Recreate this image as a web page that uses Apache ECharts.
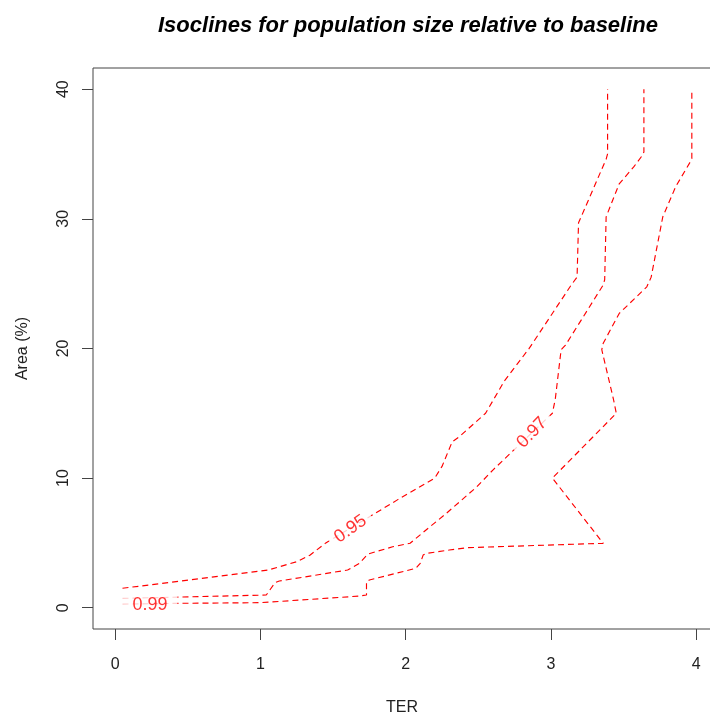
<!DOCTYPE html>
<html>
<head>
<meta charset="utf-8">
<title>Isoclines</title>
<script src="https://cdn.jsdelivr.net/npm/echarts@6/dist/echarts.min.js"></script>
<style>
  html, body { margin: 0; padding: 0; background: #fff; }
  #chart { width: 710px; height: 715px; }
</style>
</head>
<body>
<div id="chart"></div>
<script>
// Isocline paths: [TER, Area (%)] vertices for each contour level
const levels = ['0.95', '0.97', '0.99'];

const iso095 = [
  [0.05, 1.5], [1.05, 2.9], [1.25, 3.55], [1.34, 4.05], [1.45, 5.0],
  [1.77, 7.15], [1.94, 8.3], [2.2, 10.0], [2.25, 10.9], [2.32, 12.8],
  [2.37, 13.2], [2.55, 15.0], [2.68, 17.5], [2.85, 20.0], [3.14, 24.9],
  [3.18, 25.5], [3.19, 29.7], [3.21, 30.2], [3.38, 34.6], [3.39, 35.0],
  [3.39, 40.0]
];

const iso097 = [
  [0.05, 0.72], [1.04, 0.98], [1.1, 1.93], [1.13, 2.06], [1.6, 2.91],
  [1.68, 3.42], [1.74, 4.14], [1.91, 4.7], [2.03, 4.97], [2.14, 6.0],
  [2.28, 7.28], [2.49, 9.33], [2.6, 10.62], [3.01, 15.0], [3.03, 16.1],
  [3.07, 19.9], [3.1, 20.25], [3.36, 24.9], [3.37, 25.3], [3.38, 30.15],
  [3.47, 32.7], [3.57, 34.0], [3.63, 34.9], [3.64, 35.15], [3.64, 40.0]
];

const iso099 = [
  [0.05, 0.28], [0.43, 0.34], [1.0, 0.39], [1.68, 0.9], [1.73, 0.98],
  [1.73, 2.0], [1.75, 2.14], [2.07, 3.04], [2.1, 3.42], [2.12, 4.06],
  [2.14, 4.19], [2.3, 4.45], [2.42, 4.63], [3.36, 4.97], [3.01, 10.0],
  [3.45, 15.0], [3.43, 16.1], [3.35, 19.9], [3.36, 20.4], [3.47, 22.7],
  [3.66, 24.75], [3.69, 25.5], [3.77, 30.15], [3.86, 32.5], [3.96, 34.4],
  [3.97, 34.65], [3.97, 40.0]
];

// Where each level's value is written along its line: [TER, Area, angle]
const labelAt = [
  [1.62, 6.07, 35],
  [2.87, 13.5, 46],
  [0.225, 0.2, 0]
];

const xTicks = [0, 1, 2, 3, 4];
const yTicks = [0, 10, 20, 30, 40];

const FONT = '"Liberation Sans", Arial, sans-serif';
const RED = '#ff0000';
const AXIS_GRAY = '#444';
const TEXT_GRAY = '#222';

const lineSeries = [iso095, iso097, iso099].map((pts, i) => ({
  name: levels[i],
  type: 'line',
  data: pts,
  showSymbol: false,
  symbol: 'none',
  silent: true,
  z: 2,
  lineStyle: { color: RED, width: 1.15, type: [6, 4] }
}));

// Level values, set on a white patch that breaks the line beneath them
const labelSeries = {
  type: 'scatter',
  symbolSize: 1,
  silent: true,
  z: 5,
  itemStyle: { color: 'rgba(0,0,0,0)' },
  data: labelAt.map((p, i) => ({
    value: [p[0], p[1]],
    label: {
      show: true,
      position: 'inside',
      formatter: levels[i],
      rotate: p[2],
      color: RED,
      fontFamily: FONT,
      fontSize: 18,
      backgroundColor: '#fff',
      padding: i === 2 ? [1, 10, 1, 14] : [1, 7]
    }
  }))
};

const chart = echarts.init(document.getElementById('chart'), null, { renderer: 'canvas' });
chart.setOption({
  animation: false,
  backgroundColor: '#fff',
  title: {
    text: 'Isoclines for population size relative to baseline',
    left: 403,
    textAlign: 'center',
    top: 10,
    textStyle: {
      fontFamily: FONT,
      fontSize: 22,
      fontWeight: 'bold',
      fontStyle: 'italic',
      color: '#000'
    }
  },
  grid: {
    left: 93, top: 68, width: 618, height: 561,
    show: true, borderColor: AXIS_GRAY, borderWidth: 1,
    containLabel: false,
    outerBoundsMode: 'none'
  },
  xAxis: {
    type: 'value',
    min: -0.153,
    max: 4.102,
    name: 'TER',
    nameLocation: 'middle',
    nameGap: 71,
    nameTextStyle: { fontFamily: FONT, fontSize: 16, color: TEXT_GRAY },
    splitLine: { show: false },
    axisLine: { show: false, onZero: false },
    axisTick: { show: true, inside: false, length: 11, lineStyle: { color: AXIS_GRAY }, customValues: xTicks },
    axisLabel: {
      fontFamily: FONT, fontSize: 16, color: TEXT_GRAY, margin: 28,
      customValues: xTicks,
      formatter: v => String(v)
    }
  },
  yAxis: {
    type: 'value',
    min: -1.64,
    max: 41.63,
    name: 'Area (%)',
    nameLocation: 'middle',
    nameGap: 62,
    nameRotate: 90,
    nameTextStyle: { fontFamily: FONT, fontSize: 16, color: TEXT_GRAY },
    splitLine: { show: false },
    axisLine: { show: false, onZero: false },
    axisTick: { show: true, inside: false, length: 11, lineStyle: { color: AXIS_GRAY }, customValues: yTicks },
    axisLabel: {
      fontFamily: FONT, fontSize: 16, color: TEXT_GRAY, margin: 21, rotate: 90,
      customValues: yTicks,
      formatter: v => String(v)
    }
  },
  series: [...lineSeries, labelSeries]
});
</script>
</body>
</html>
